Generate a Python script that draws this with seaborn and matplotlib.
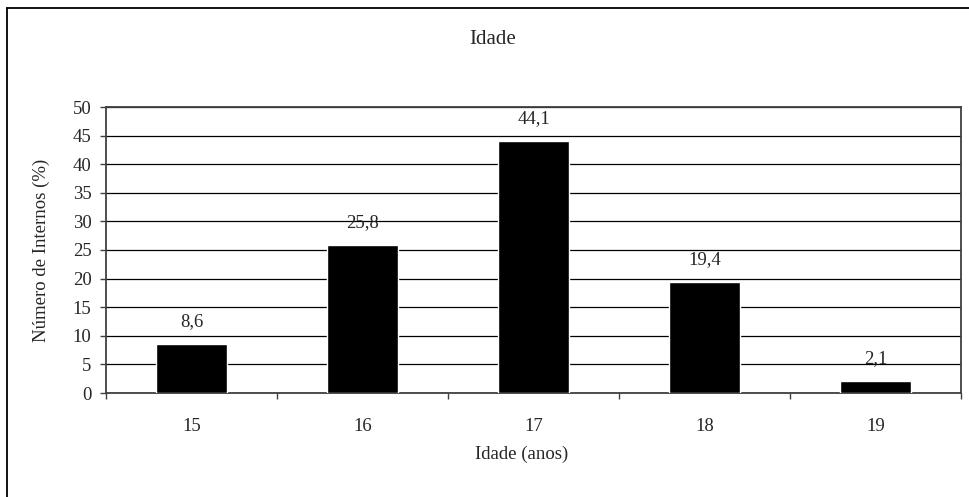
import matplotlib.pyplot as plt
import seaborn as sns
import pandas as pd
from matplotlib.lines import Line2D

idades = ['15', '16', '17', '18', '19']
percentagens = [8.6, 25.8, 44.1, 19.4, 2.1]

sns.set_style('white')
plt.rcParams['font.family'] = ['Liberation Serif', 'DejaVu Serif']

df = pd.DataFrame({'idade': idades, 'pct': percentagens})

fs = 13.5

fig = plt.figure(figsize=(9.69, 4.97), dpi=100)
ax = fig.add_axes([106 / 969, 1 - 393 / 497, 855 / 969, 286 / 497])

sns.barplot(data=df, x='idade', y='pct', color='black', width=0.41,
            saturation=1, ax=ax, zorder=3)

labels = ["{:.1f}".format(v).replace('.', ',') for v in percentagens]
ax.bar_label(ax.containers[0], labels=labels, padding=10, fontsize=fs)

ax.set_ylim(0, 50)
ax.set_xlim(-0.5, 4.5)
ax.set_yticks(range(0, 51, 5))
ax.yaxis.grid(True, color='black', linewidth=0.9, zorder=0)
ax.set_axisbelow(True)

# ticks between categories, like the original
ax.set_xticks([i - 0.5 for i in range(6)], minor=True)
ax.tick_params(axis='x', which='major', length=0, pad=18, labelsize=fs)
ax.tick_params(axis='x', which='minor', length=4.5, width=1, color='#404040',
               direction='out', bottom=True)
ax.tick_params(axis='y', length=4.5, width=1, color='#404040', direction='out',
               left=True, labelsize=fs, pad=6)

for side in ['left', 'bottom', 'right', 'top']:
    ax.spines[side].set_visible(True)
    ax.spines[side].set_color('#404040')
    ax.spines[side].set_linewidth(1.3)

ax.set_xlabel('Idade (anos)', fontsize=fs)
ax.set_ylabel('Número de Internos (%)', fontsize=fs)
ax.xaxis.set_label_coords(0.4865, -0.185)
ax.yaxis.set_label_coords(-0.066, 0.5)

fig.text(493 / 969, 1 - 40 / 497, 'Idade', ha='center', va='center', fontsize=15)

# chart area frame
fig.add_artist(Line2D([7 / 969, 7 / 969], [0, 1 - 8 / 497], color='black',
                      linewidth=1.3, transform=fig.transFigure))
fig.add_artist(Line2D([7 / 969, 1], [1 - 8 / 497, 1 - 8 / 497], color='black',
                      linewidth=1.3, transform=fig.transFigure))

fig.savefig('out.png', dpi=100)
plt.close()
